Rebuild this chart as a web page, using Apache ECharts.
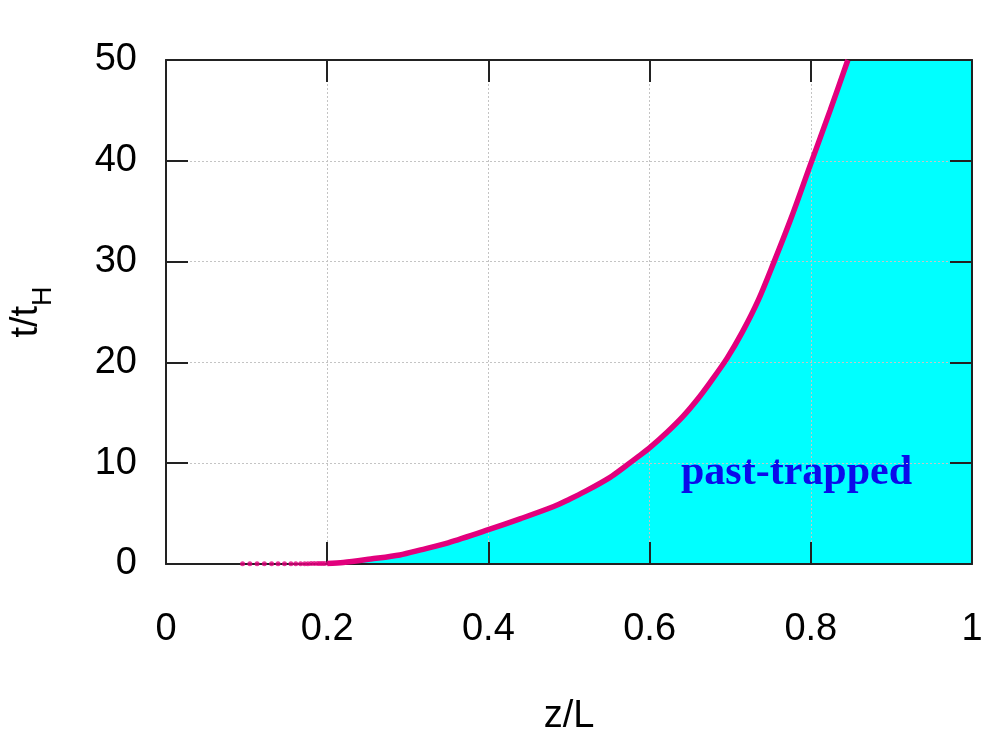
<!DOCTYPE html>
<html>
<head>
<meta charset="utf-8">
<title>past-trapped</title>
<script src="https://cdn.jsdelivr.net/npm/echarts@6/dist/echarts.min.js"></script>
<style>
  html, body { margin: 0; padding: 0; background: #fff; }
  #chart { width: 997px; height: 747px; }
</style>
</head>
<body>
<div id="chart"></div>
<script>
// curve z/L -> t/tH
var curveZ = [0.200, 0.220, 0.254, 0.290, 0.316, 0.350, 0.400, 0.440, 0.481, 0.500, 0.520, 0.551, 0.570, 0.585, 0.601, 0.622, 0.642, 0.660, 0.675, 0.696, 0.715, 0.735, 0.754, 0.776, 0.799, 0.824, 0.846]
var curveT = [0.05, 0.15, 0.5, 0.9, 1.4, 2.1, 3.4, 4.5, 5.7, 6.4, 7.2, 8.6, 9.7, 10.6, 11.6, 13.1, 14.7, 16.4, 18.0, 20.4, 23.0, 26.2, 29.9, 34.4, 39.5, 45.0, 50.0]
// loose points near t = 0
var dotZ = [0.095, 0.104, 0.113, 0.122, 0.131, 0.139, 0.147, 0.155, 0.161, 0.167, 0.172, 0.176, 0.180, 0.184, 0.188, 0.191, 0.194, 0.197]
var dotT = [0.03, 0.03, 0.03, 0.03, 0.03, 0.03, 0.03, 0.03, 0.03, 0.03, 0.03, 0.03, 0.04, 0.04, 0.04, 0.04, 0.05, 0.05]
// corner that closes the shaded region
var cornerZ = 1
var cornerT = 50

var xTicks = [0, 0.2, 0.4, 0.6, 0.8, 1]
var yTicks = [0, 10, 20, 30, 40, 50]

var curveData = curveZ.map(function (z, i) { return [z, curveT[i]] })
var dotData = dotZ.map(function (z, i) { return [z, dotT[i]] })
var fillData = curveData.concat([[cornerZ, cornerT]])

var axisColor = '#222'
var font = '"Liberation Sans", Arial, sans-serif'
var lineColor = '#e2007d'

var option = {
  animation: false,
  backgroundColor: '#fff',
  grid: { left: 165, right: 25, top: 60, bottom: 183 },
  xAxis: [
    {
      type: 'value', min: xTicks[0], max: xTicks[xTicks.length - 1], interval: 0.2,
      name: 'z/L', nameLocation: 'middle', nameGap: 134,
      nameTextStyle: { fontFamily: font, fontSize: 38, color: '#000' },
      axisLine: { show: true, onZero: false, lineStyle: { color: axisColor, width: 2 } },
      axisTick: { show: true, inside: true, length: 22, lineStyle: { color: axisColor, width: 2 } },
      axisLabel: { margin: 47, fontFamily: font, fontSize: 38, color: '#000' },
      splitLine: { show: true, lineStyle: { color: '#c4c4c4', type: [2, 2], width: 1 } }
    },
    {
      type: 'value', position: 'top', min: 0, max: 1, interval: 0.2,
      axisLine: { show: true, onZero: false, lineStyle: { color: axisColor, width: 2 } },
      axisTick: { show: true, inside: true, length: 22, lineStyle: { color: axisColor, width: 2 } },
      axisLabel: { show: false },
      splitLine: { show: false }
    }
  ],
  yAxis: [
    {
      type: 'value', min: yTicks[0], max: yTicks[yTicks.length - 1], interval: 10,
      name: '{a|t/t}{b|H}', nameLocation: 'middle', nameGap: 120, nameRotate: 90,
      nameTextStyle: {
        rich: {
          a: { fontFamily: font, fontSize: 38, color: '#000' },
          b: { fontFamily: font, fontSize: 27, color: '#000', verticalAlign: 'bottom', padding: [0, 0, -11, 0] }
        }
      },
      axisLine: { show: true, onZero: false, lineStyle: { color: axisColor, width: 2 } },
      axisTick: { show: true, inside: true, length: 22, lineStyle: { color: axisColor, width: 2 } },
      axisLabel: { margin: 29, fontFamily: font, fontSize: 38, color: '#000' },
      splitLine: { show: true, lineStyle: { color: '#c4c4c4', type: [2, 2], width: 1 } }
    },
    {
      type: 'value', position: 'right', min: 0, max: 50, interval: 10,
      axisLine: { show: true, onZero: false, lineStyle: { color: axisColor, width: 2 } },
      axisTick: { show: true, inside: true, length: 22, lineStyle: { color: axisColor, width: 2 } },
      axisLabel: { show: false },
      splitLine: { show: false }
    }
  ],
  series: [
    {
      name: 'fill', type: 'line', z: -1,
      data: fillData, showSymbol: false,
      lineStyle: { width: 0 },
      areaStyle: { color: '#00ffff', opacity: 1 }
    },
    {
      name: 'curve', type: 'line',
      data: curveData, showSymbol: false, smooth: 0.3,
      lineStyle: { color: lineColor, width: 5.5 }
    },
    {
      name: 'dots', type: 'scatter',
      data: dotData, symbol: 'circle', symbolSize: 5,
      itemStyle: { color: lineColor }
    }
  ],
  graphic: [
    {
      type: 'text', left: 681, top: 452,
      style: {
        text: 'past-trapped',
        fill: '#0b0bea',
        font: 'bold 42px "Liberation Serif", "Times New Roman", serif'
      }
    }
  ]
}

var chart = echarts.init(document.getElementById('chart'))
chart.setOption(option)
</script>
</body>
</html>
